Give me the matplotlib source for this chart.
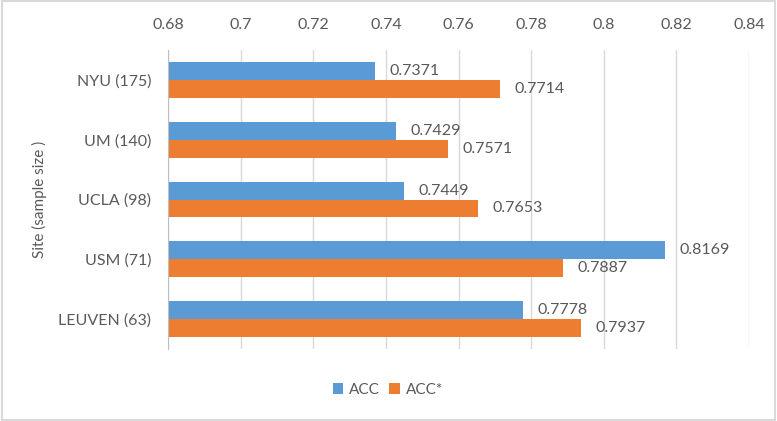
import matplotlib
matplotlib.use("Agg")
import matplotlib.pyplot as plt
from matplotlib.patches import Rectangle
import numpy as np

sites = ["NYU (175)", "UM (140)", "UCLA (98)", "USM (71)", "LEUVEN (63)"]
acc = [0.7371, 0.7429, 0.7449, 0.8169, 0.7778]
acc_star = [0.7714, 0.7571, 0.7653, 0.7887, 0.7937]
xticks = [0.68, 0.70, 0.72, 0.74, 0.76, 0.78, 0.80, 0.82, 0.84]
xticklabels = ["0.68", "0.7", "0.72", "0.74", "0.76", "0.78", "0.8", "0.82", "0.84"]

plt.rcParams['font.family'] = ['Lato', 'DejaVu Sans']
txt = '#595959'
blue = '#5B9BD5'
orange = '#ED7D31'
fs = 11.5

fig = plt.figure(figsize=(7.77, 4.21), dpi=100)
ax = fig.add_axes([168/777, 1-349/421, (749-168)/777, (349-50)/421])

y = np.arange(len(sites))
h = 0.3
ax.barh(y - h/2, acc, height=h, left=0, color=blue, label='ACC', zorder=3)
ax.barh(y + h/2, acc_star, height=h, left=0, color=orange, label='ACC*', zorder=3)
for i in range(len(sites)):
    ax.text(acc[i] + 0.0040, y[i] - h/2, f"{acc[i]:.4f}", va='center', ha='left', fontsize=fs, color=txt)
    ax.text(acc_star[i] + 0.0040, y[i] + h/2, f"{acc_star[i]:.4f}", va='center', ha='left', fontsize=fs, color=txt)

ax.set_xlim(0.68, 0.84)
ax.set_ylim(len(sites) - 0.5, -0.5)
ax.set_yticks(y)
ax.set_yticklabels(sites, fontsize=fs, color=txt)
ax.set_xticks(xticks)
ax.set_xticklabels(xticklabels, fontsize=fs, color=txt)
ax.xaxis.tick_top()
ax.tick_params(axis='y', length=0, pad=12)
ax.tick_params(axis='x', length=0, pad=13)
ax.grid(axis='x', color='#D9D9D9', linewidth=1, zorder=0)
for s in ['top', 'right', 'bottom']:
    ax.spines[s].set_visible(False)
ax.spines['left'].set_color('#BFBFBF')
ax.spines['left'].set_zorder(4)
ax.set_ylabel("Site (sample size )", fontsize=11, color=txt, labelpad=8)

leg = fig.legend(loc='center', bbox_to_anchor=(388/777, 1-390/421), ncol=2, frameon=False,
                 fontsize=11, handlelength=0.7, handleheight=0.7, handletextpad=0.4, columnspacing=0.6)
for t in leg.get_texts():
    t.set_color(txt)

fig.patches.append(Rectangle((0.002, 0.003), 0.996, 0.994, transform=fig.transFigure,
                             fill=False, edgecolor='#D9D9D9', linewidth=1.5))
fig.savefig("out.png", dpi=100)
